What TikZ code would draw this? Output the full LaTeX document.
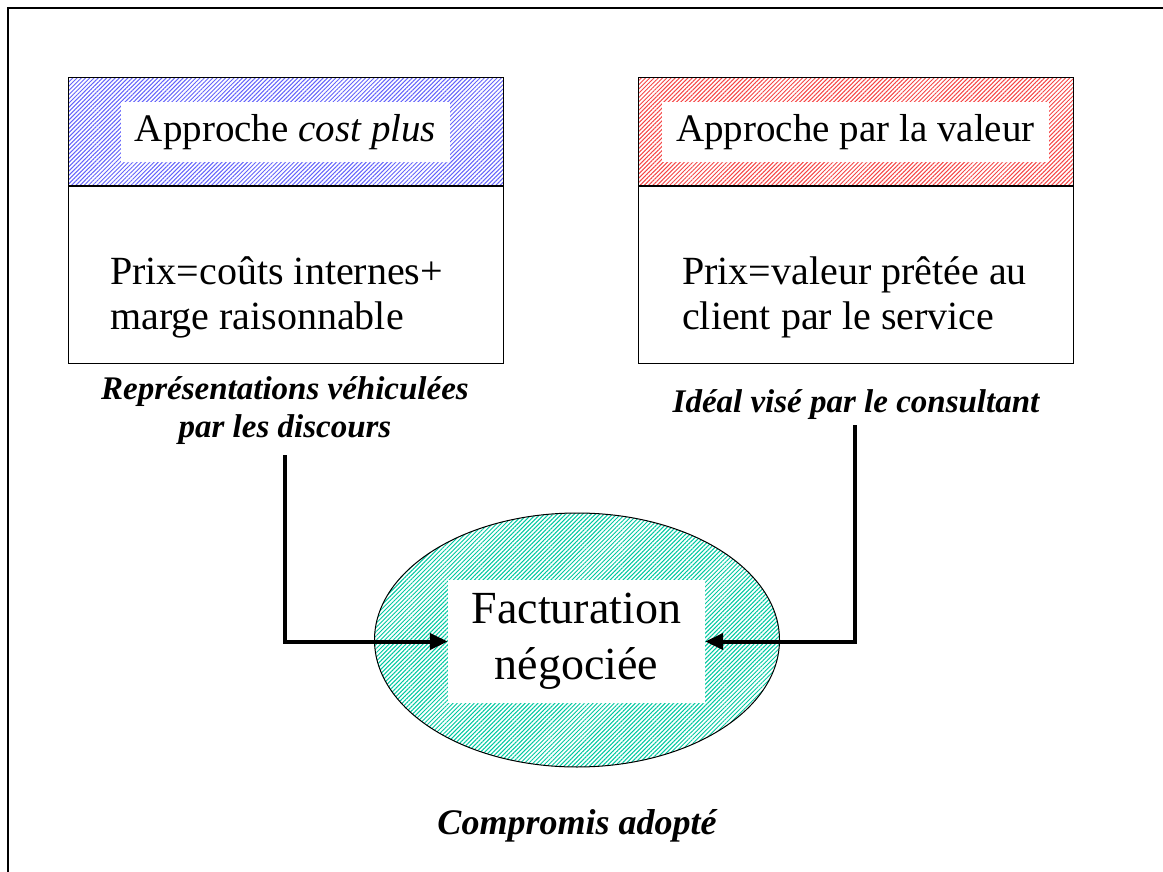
\documentclass[tikz,border=0pt]{standalone}
\usepackage{fontspec}
\setmainfont{Liberation Serif}
\usetikzlibrary{arrows.meta,positioning,shapes.geometric,patterns.meta}
\definecolor{hatchblue}{RGB}{100,100,250}
\definecolor{hatchred}{RGB}{245,70,70}
\definecolor{hatchteal}{RGB}{0,200,160}
\tikzset{
  headbox/.style={
    draw,
    line width=1pt,
    minimum width=435pt,
    minimum height=108pt,
    inner sep=0pt
  },
  bodybox/.style={
    draw,
    line width=1pt,
    minimum width=435pt,
    minimum height=176pt,
    inner sep=0pt
  },
  tag/.style={
    fill=white,
    font=\fontsize{39}{44}\selectfont,
    minimum height=60pt,
    inner xsep=14pt
  },
  body/.style={align=left, font=\fontsize{40}{45}\selectfont, inner sep=0pt},
  remark/.style={align=center, font=\fontsize{33}{38}\selectfont\bfseries\itshape, inner sep=0pt},
  hatch/.style={pattern={Lines[angle=45,distance=3pt,line width=1pt]}, pattern color=#1},
  link/.style={-{Triangle[length=18pt,width=16pt]}, line width=4pt}
}

\begin{document}
\begin{tikzpicture}[x=1pt,y=-1pt]
  \useasboundingbox (0,0) rectangle (1163,872);
  \draw[line width=1.5pt] (8,872) -- (8,8) -- (1163,8);

  % the two pricing approaches
  \node[headbox, hatch=hatchblue] (headL) at (285.5,132) {};
  \node[bodybox, below=0pt of headL] (bodyL) {};
  \node[tag] (tagL) at (headL) {Approche \textit{cost plus}};
  \node[body, anchor=west] (txtL) at (110,297) {Prix=coûts internes+\\marge raisonnable};

  \node[headbox, hatch=hatchred] (headR) at (855.5,132) {};
  \node[bodybox, below=0pt of headR] (bodyR) {};
  \node[tag] (tagR) at (headR) {Approche par la valeur};
  \node[body, anchor=west] (txtR) at (682,297) {Prix=valeur prêtée au\\client par le service};

  \node[remark] (capL) at (285,411) {Représentations véhiculées\\par les discours};
  \node[remark] (capR) at (856,405) {Idéal visé par le consultant};
  \coordinate (fromL) at (285,455);
  \coordinate (fromR) at (855,425);

  % the negotiated outcome
  \node[ellipse, draw, line width=1pt, hatch=hatchteal, minimum width=405pt, minimum height=254pt] (oval) at (577,640) {};
  \node[fill=white, align=center, font=\fontsize{46}{56}\selectfont, minimum width=257pt, minimum height=123pt] (fact) at (576.5,641.5) {Facturation\\négociée};
  \node[remark, font=\fontsize{36}{42}\selectfont\bfseries\itshape] (comp) at (577,826) {Compromis adopté};

  \draw[link] (fromL) |- (fact.west);
  \draw[link] (fromR) |- (fact.east);
\end{tikzpicture}
\end{document}
